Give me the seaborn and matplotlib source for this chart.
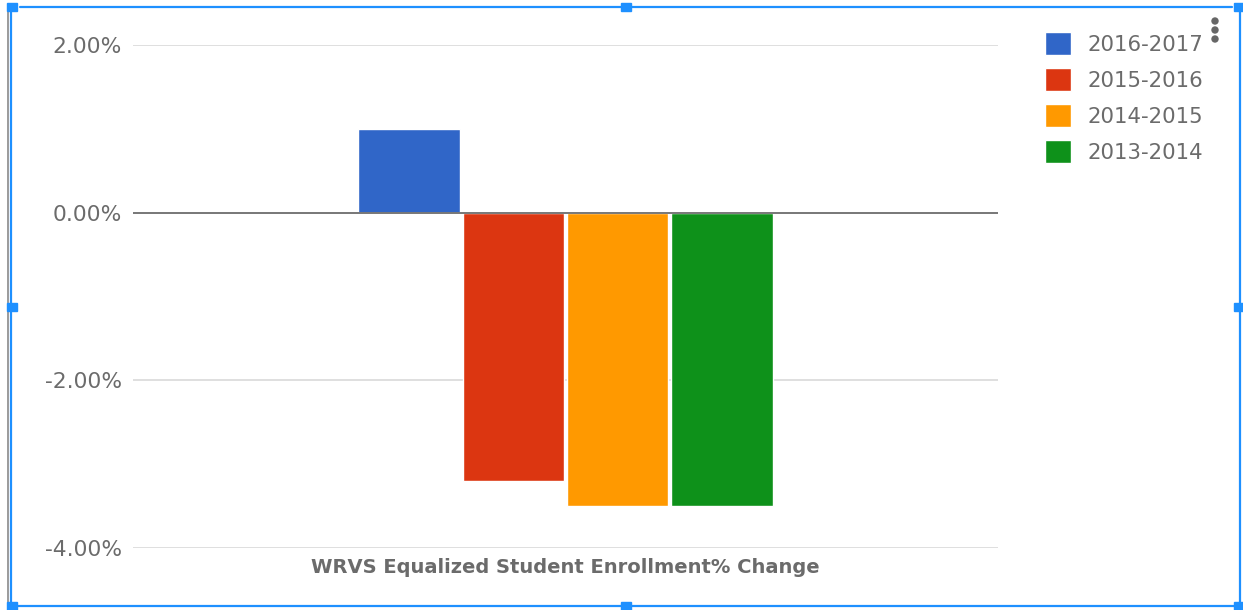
import matplotlib
matplotlib.use("Agg")
import matplotlib.pyplot as plt
import matplotlib.patches as mpatches
import seaborn as sns
import pandas as pd

# Enrollment change by school year (percent)
category = "WRVS Equalized Student Enrollment% Change"
years = ["2016-2017", "2015-2016", "2014-2015", "2013-2014"]
changes = [1.0, -3.2, -3.5, -3.5]
colors = ["#3066c8", "#dc3611", "#ff9900", "#0e911a"]
yticks = [-4, -2, 0, 2]
ytick_labels = ["-4.00%", "-2.00%", "0.00%", "2.00%"]

df = pd.DataFrame({"group": [category] * len(years), "year": years, "change": changes})

sns.set_theme(style="white")
plt.rcParams["font.family"] = ["DejaVu Sans"]

W, H = 1243, 610
fig = plt.figure(figsize=(W / 100, H / 100), dpi=100)
fig.patch.set_facecolor("white")

ax = fig.add_axes([133 / W, 1 - 548 / H, (998 - 133) / W, (548 - 45) / H])
sns.barplot(data=df, x="group", y="change", hue="year", hue_order=years,
            palette=colors, ax=ax, width=0.8, gap=0.025, saturation=1,
            legend=True)

ax.set_xlim(-0.83, 0.83)
ax.set_ylim(-4, 2)
ax.set_yticks(yticks)
ax.set_yticklabels(ytick_labels)
ax.tick_params(axis="y", length=0, pad=8, labelsize=15.7, labelcolor="#6b6b6b")
ax.set_xticks([])
ax.set_xlabel(category, fontsize=14, fontweight="bold", color="#6b6b6b", labelpad=7)
ax.set_ylabel("")
for s in ax.spines.values():
    s.set_visible(False)
for yv in [-4, -2, 2]:
    ax.axhline(yv, color="#d9d9d9", lw=1.2, zorder=0)
ax.axhline(0, color="#777777", lw=1.4, zorder=5)

leg = ax.legend(loc="upper left", bbox_to_anchor=(1026 / W, 1 - 13 / H),
                bbox_transform=fig.transFigure, frameon=False,
                fontsize=15.3, labelcolor="#6b6b6b", handlelength=1.2,
                handleheight=1.3, handletextpad=0.8, labelspacing=0.6)

# Overlay in pixel coordinates: selection frame, handles and menu dots
ov = fig.add_axes([0, 0, 1, 1], zorder=10)
ov.set_xlim(0, W)
ov.set_ylim(H, 0)
ov.axis("off")
ov.patch.set_alpha(0)
blue = "#1e90ff"
ov.plot([8.5, 8.5], [12, 604], color="#8a8a8a", lw=1.2)
ov.plot([11, 11], [12, 604], color=blue, lw=1.6)
ov.plot([1240, 1240], [12, 604], color=blue, lw=1.6)
ov.plot([20, 1232], [6.5, 6.5], color=blue, lw=1.6)
ov.plot([14, 1236], [606, 606], color=blue, lw=1.6)
for hx, hy in [(12, 7), (626, 7), (1239, 7), (12, 307), (1239, 307),
               (12, 606), (626, 606), (1239, 606)]:
    ov.add_patch(mpatches.Rectangle((hx - 5, hy - 4), 10, 8, color=blue, zorder=11))
for dy in [21, 30, 39]:
    ov.add_patch(mpatches.Circle((1215, dy), 3, color="#666666", zorder=11))

fig.savefig("out.png", dpi=100)
